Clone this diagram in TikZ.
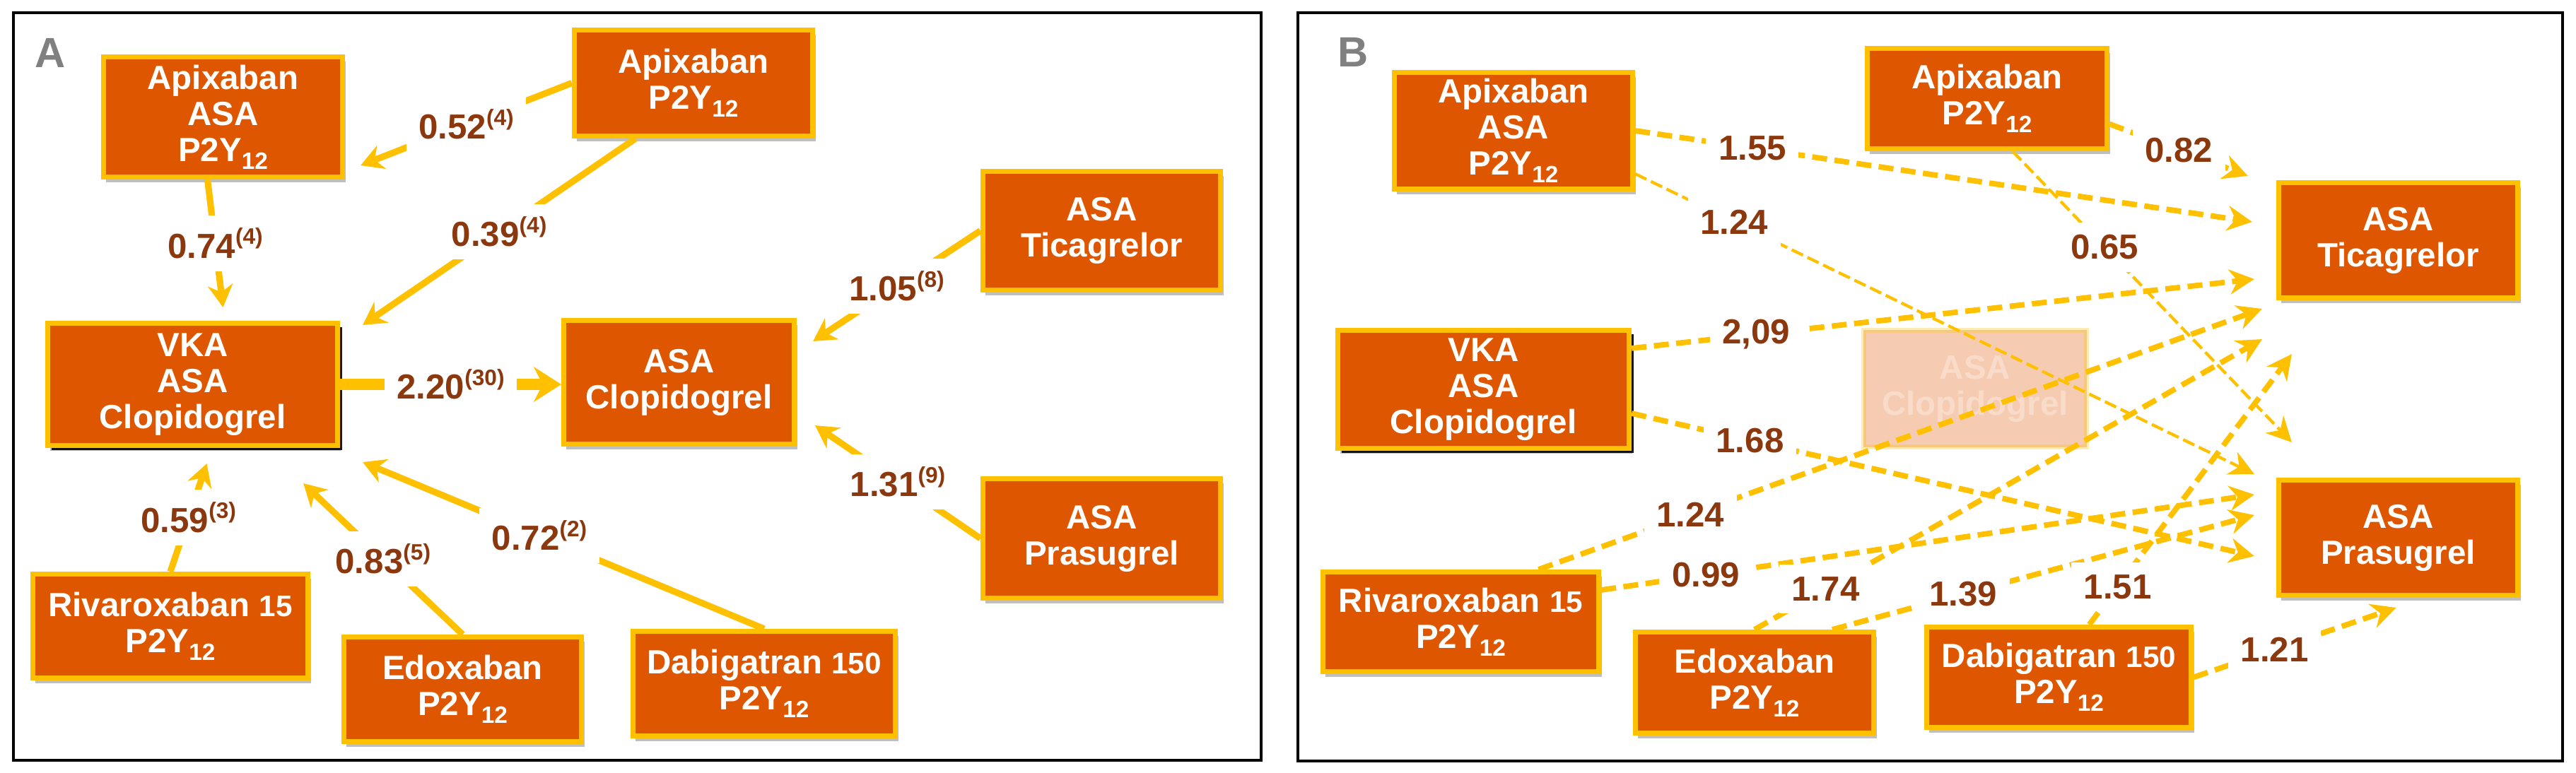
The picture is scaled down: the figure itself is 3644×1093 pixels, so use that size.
\documentclass[tikz,border=0pt]{standalone}
\usepackage{fontspec}
\setmainfont{Liberation Sans}
\usetikzlibrary{arrows.meta,shadows}
\definecolor{gold}{RGB}{255,192,0}
\definecolor{burnt}{RGB}{222,87,0}
\definecolor{rust}{RGB}{140,56,14}
\definecolor{tagtext}{RGB}{128,128,128}
\newcommand{\lowidx}[1]{\raisebox{-0.45ex}{\fontsize{9.5}{9.5}\selectfont #1}}
\newcommand{\highidx}[1]{\raisebox{0.75ex}{\fontsize{9}{9}\selectfont #1}}
\newcommand{\dose}[1]{{\fontsize{12}{12}\selectfont #1}}

\begin{document}
\begin{tikzpicture}[x=0.01cm,y=-0.01cm]
\tikzstyle{every node}+=[inner sep=0pt]
\tikzstyle{drug}=[draw=gold, line width=2pt, fill=burnt, text=white, align=center,
  font=\bfseries\fontsize{13.5}{14.5}\selectfont,
  drop shadow={shadow xshift=0.04cm, shadow yshift=-0.07cm, fill=black, opacity=0.25}]
\tikzstyle{mainbox}=[drug, drop shadow={shadow xshift=0.06cm, shadow yshift=-0.06cm, fill=black, opacity=0.9}]
\tikzstyle{ghost}=[draw=gold, line width=2pt, fill=burnt, text=white, align=center,
  font=\bfseries\fontsize{13.5}{14.5}\selectfont, opacity=0.3]
\tikzstyle{tag}=[text=tagtext, font=\bfseries\fontsize{17}{17}\selectfont]
\tikzstyle{val}=[fill=white, text=rust, inner sep=5pt, font=\bfseries\fontsize{14}{14}\selectfont]
\tikzstyle{link}=[gold, line width=2.6pt, -{Stealth[length=9pt,width=10pt]}]
\tikzstyle{dlink}=[gold, line width=2.2pt, dash pattern=on 6pt off 3pt, -{Stealth[length=10pt,width=10pt]}]
\tikzstyle{thinlink}=[dlink, line width=1.2pt, dash pattern=on 5pt off 2pt]

\useasboundingbox (0,0) rectangle (3644,1093);

% panel A
\draw[line width=1.2pt] (19,18) rectangle (1784,1076);
\node[tag] (tagA) at (71,75) {A};

\node[drug, minimum width=3.38cm, minimum height=1.70cm] (apxasaA) at (315.5,165.5) {Apixaban\\ASA\\P2Y\lowidx{12}};
\node[drug, minimum width=3.37cm, minimum height=1.50cm] (apxpA) at (981,117.5) {Apixaban\\P2Y\lowidx{12}};
\node[mainbox, minimum width=4.10cm, minimum height=1.73cm] (vkaA) at (272.5,544) {VKA\\ASA\\Clopidogrel};
\node[drug, minimum width=3.26cm, minimum height=1.75cm] (clopA) at (960.5,541) {ASA\\Clopidogrel};
\node[drug, minimum width=3.36cm, minimum height=1.68cm] (ticaA) at (1558.5,326.5) {ASA\\Ticagrelor};
\node[drug, minimum width=3.36cm, minimum height=1.69cm] (prasA) at (1558.5,762) {ASA\\Prasugrel};
\node[drug, minimum width=3.89cm, minimum height=1.47cm] (rivaA) at (241,886) {Rivaroxaban \dose{15}\\P2Y\lowidx{12}};
\node[drug, minimum width=3.36cm, minimum height=1.48cm] (edoxA) at (654.5,975.5) {Edoxaban\\P2Y\lowidx{12}};
\node[drug, minimum width=3.71cm, minimum height=1.48cm] (dabiA) at (1081,967.5) {Dabigatran \dose{150}\\P2Y\lowidx{12}};

\draw[link] (apxpA.west) -- node[val] {0.52\highidx{(4)}} ([shift={(22,-20)}]apxasaA.south east);
\draw[link] ([shift={(-22,0)}]apxasaA.south) -- node[val] {0.74\highidx{(4)}} ([shift={(43,-19)}]vkaA.north);
\draw[link] ([shift={(-82,0)}]apxpA.south) -- node[val] {0.39\highidx{(4)}} ([shift={(32,6)}]vkaA.north east);
\draw[link, line width=4.3pt, -{Stealth[length=11pt,width=14pt]}] (vkaA.east) -- node[val] {2.20\highidx{(30)}} (vkaA.east -| clopA.west);
\draw[link] (ticaA.west) -- node[val] {1.05\highidx{(8)}} ([shift={(23,33)}]clopA.north east);
\draw[link] (prasA.west) -- node[val] {1.31\highidx{(9)}} ([shift={(26,-30)}]clopA.south east);
\draw[link] (rivaA.north) -- node[val] {0.59\highidx{(3)}} ([shift={(20,22)}]vkaA.south);
\draw[link] (edoxA.north) -- node[val] {0.83\highidx{(5)}} ([shift={(-52,50)}]vkaA.south east);
\draw[link] (dabiA.north) -- node[val, pos=0.56] {0.72\highidx{(2)}} ([shift={(32,20)}]vkaA.south east);

% panel B
\draw[line width=1.2pt] (1836,18) rectangle (3625,1077);
\node[tag] (tagB) at (1914,74) {B};

\node[ghost, minimum width=3.15cm, minimum height=1.65cm] (clopB) at (2794,550) {ASA\\Clopidogrel};
\node[drug, minimum width=3.37cm, minimum height=1.65cm] (apxasaB) at (2141,185) {Apixaban\\ASA\\P2Y\lowidx{12}};
\node[drug, minimum width=3.39cm, minimum height=1.42cm] (apxpB) at (2811,139.5) {Apixaban\\P2Y\lowidx{12}};
\node[mainbox, minimum width=4.12cm, minimum height=1.67cm] (vkaB) at (2098.5,551) {VKA\\ASA\\Clopidogrel};
\node[drug, minimum width=3.38cm, minimum height=1.63cm] (ticaB) at (3392.5,340) {ASA\\Ticagrelor};
\node[drug, minimum width=3.38cm, minimum height=1.63cm] (prasB) at (3392.5,761) {ASA\\Prasugrel};
\node[drug, minimum width=3.90cm, minimum height=1.41cm] (rivaB) at (2066.5,880) {Rivaroxaban \dose{15}\\P2Y\lowidx{12}};
\node[drug, minimum width=3.37cm, minimum height=1.43cm] (edoxB) at (2482,966) {Edoxaban\\P2Y\lowidx{12}};
\node[drug, minimum width=3.74cm, minimum height=1.42cm] (dabiB) at (2912.5,958.5) {Dabigatran \dose{150}\\P2Y\lowidx{12}};

\draw[dlink] (apxasaB.east) -- node[val, pos=0.19] {1.55} ([shift={(-34,-26)}]ticaB.west);
\draw[thinlink] ([shift={(0,61)}]apxasaB.east) -- node[val, pos=0.16] {1.24} ([shift={(-31,-5)}]prasB.north west);
\draw[dlink] ([shift={(0,36)}]apxpB.east) -- node[val, pos=0.5] {0.82} ([shift={(-40,-6)}]ticaB.north west);
\draw[thinlink] ([shift={(36,0)}]apxpB.south) -- node[val, pos=0.33] {0.65} ([shift={(22,-50)}]prasB.north west);
\draw[dlink] ([shift={(0,29)}]vkaB.north east) -- node[val, pos=0.2] {2,09} ([shift={(-31,55)}]ticaB.west);
\draw[dlink] ([shift={(0,34)}]vkaB.east) -- node[val, pos=0.19] {1.68} ([shift={(-31,26)}]prasB.west);
\draw[dlink] ([shift={(110,0)}]rivaB.north) -- node[val, pos=0.21] {1.24} ([shift={(-20,12)}]ticaB.south west);
\draw[dlink] ([shift={(0,-45)}]rivaB.east) -- node[val, pos=0.16] {0.99} ([shift={(-31,-61)}]prasB.west);
\draw[dlink] (edoxB.north) -- node[val, pos=0.14] {1.74} ([shift={(-20,55)}]ticaB.south west);
\draw[dlink] ([shift={(110,0)}]edoxB.north) -- node[val, pos=0.31] {1.39} ([shift={(-31,-32)}]prasB.west);
\draw[dlink] ([shift={(43,0)}]dabiB.north) -- node[val, pos=0.14] {1.51} ([shift={(22,76)}]ticaB.south west);
\draw[dlink] (dabiB.east) -- node[val, pos=0.4] {1.21} ([shift={(-3,14)}]prasB.south);
\end{tikzpicture}
\end{document}
